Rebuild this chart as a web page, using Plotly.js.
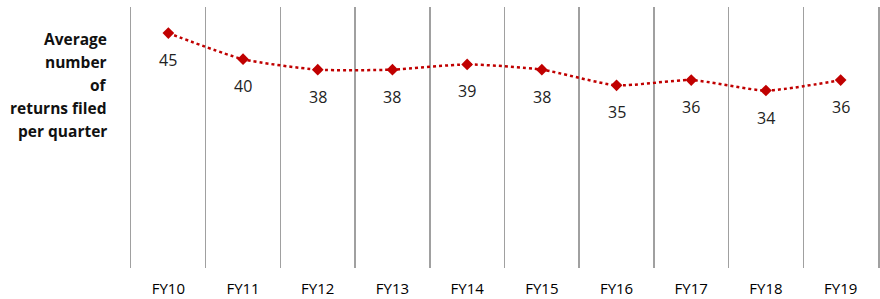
<!DOCTYPE html>
<html>
<head>
<meta charset="utf-8">
<script src="https://cdn.plot.ly/plotly-3.0.1.min.js"></script>
<style>html,body{margin:0;padding:0;background:#fff;}#chart{width:880px;height:299px;}</style>
</head>
<body>
<div id="chart"></div>
<script>
const categories = ["FY10","FY11","FY12","FY13","FY14","FY15","FY16","FY17","FY18","FY19"];
const returnsPerQuarter = [45, 40, 38, 38, 39, 38, 35, 36, 34, 36];
const yTitleLines = ["Average", "number", "of", "returns filed", "per quarter"];

const trace = {
  x: categories,
  y: returnsPerQuarter,
  type: "scatter",
  mode: "lines+markers",
  line: {color: "#C00000", width: 2.5, dash: "dot", shape: "spline", smoothing: 0.6},
  marker: {symbol: "diamond", size: 9, color: "#C00000"},
  hoverinfo: "skip",
  showlegend: false
};

const labelAnns = categories.map((c, i) => ({
  x: c, y: returnsPerQuarter[i], xref: "x", yref: "y",
  text: String(returnsPerQuarter[i]), showarrow: false,
  yshift: -27, font: {family: "Open Sans, sans-serif", size: 16, color: "#222"}
}));

// y title lines, stacked with ~23px spacing, right-aligned
const plotTop = 7, plotH = 261;
const titleAnns = yTitleLines.map((s, i) => ({
  xref: "paper", yref: "paper",
  x: -0.03, y: 1 - (39 + i * 23 - plotTop) / plotH,
  xanchor: "right", yanchor: "middle", align: "right",
  text: "<b>" + s + "</b>", showarrow: false,
  font: {family: "Open Sans, sans-serif", size: 15.5, color: "#111"}
}));

const layout = {
  width: 880, height: 299,
  margin: {l: 131, r: 2, t: 7, b: 31},
  paper_bgcolor: "#fff", plot_bgcolor: "#fff",
  xaxis: {
    type: "category", range: [-0.5, 9.5], tickson: "boundaries",
    showgrid: true, gridcolor: "#a0a0a0", gridwidth: 1.5,
    zeroline: false, showline: false,
    ticks: "", ticklabelstandoff: 10,
    tickfont: {family: "Open Sans, sans-serif", size: 15, color: "#000"},
    fixedrange: true
  },
  yaxis: {
    range: [0, 50], showgrid: false, zeroline: false,
    showline: true, mirror: true, linecolor: "#a0a0a0", linewidth: 1.5,
    showticklabels: false, ticks: "", fixedrange: true
  },
  annotations: labelAnns.concat(titleAnns)
};

Plotly.newPlot("chart", [trace], layout, {displayModeBar: false, staticPlot: true});
</script>
</body>
</html>
